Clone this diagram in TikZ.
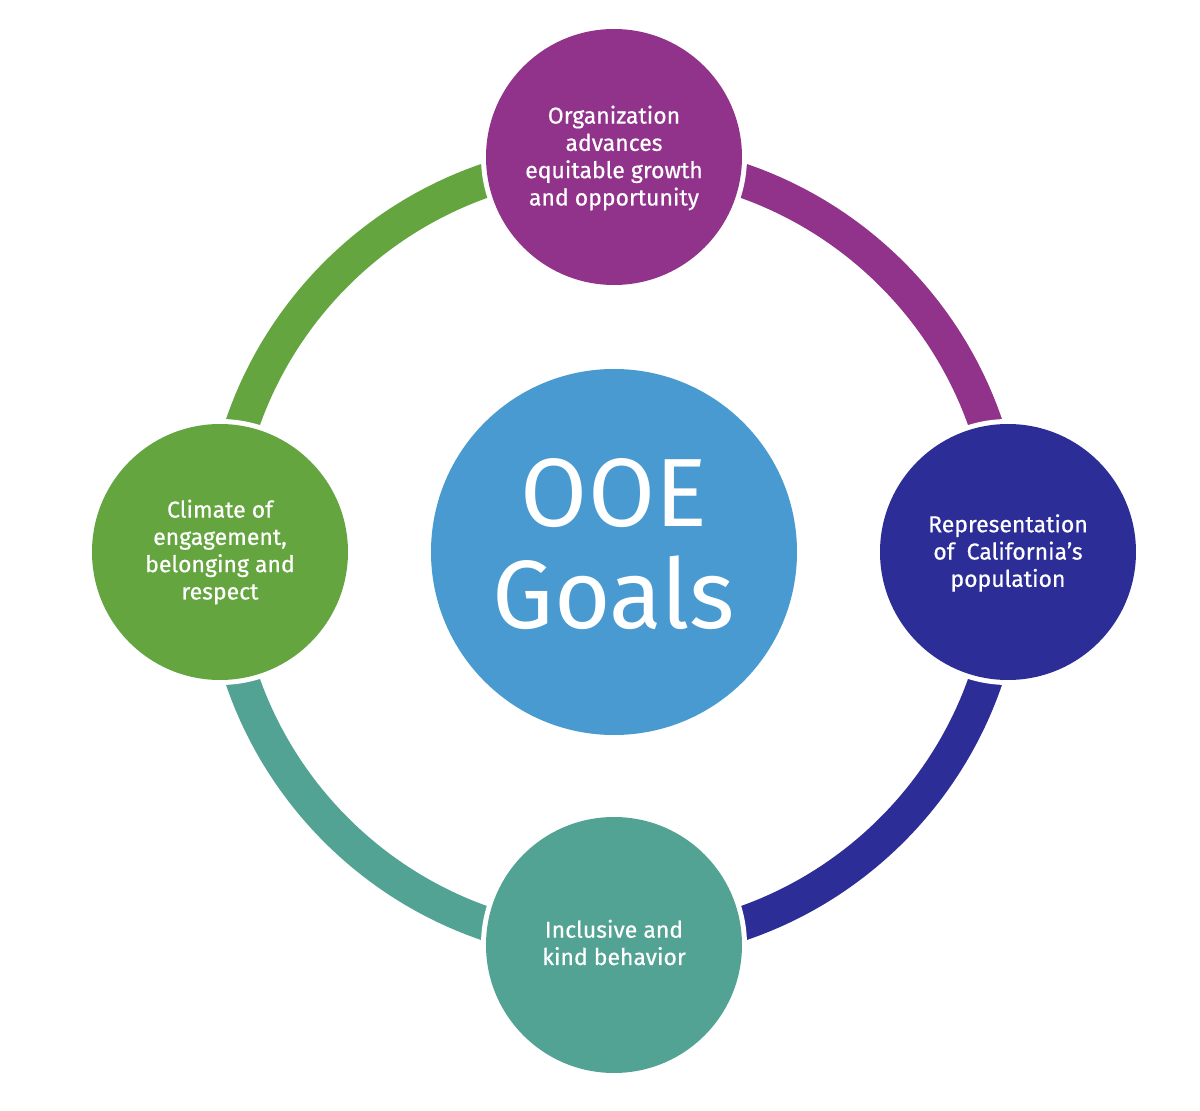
\documentclass[tikz,border=0pt]{standalone}
\usepackage{fontspec}
\setmainfont{Fira Sans}
\newfontfamily\goalfont[FakeBold=0.5]{Fira Sans}
\definecolor{cpurple}{HTML}{92338B}
\definecolor{cnavy}{HTML}{2C2D96}
\definecolor{cteal}{HTML}{53A394}
\definecolor{cgreen}{HTML}{65A540}
\definecolor{cblue}{HTML}{489AD0}
\tikzset{
  ringarc/.style={line width=34pt},
  halo/.style={circle, fill=white, minimum size=266pt, inner sep=0pt},
  goal/.style={circle, minimum size=256pt, inner sep=0pt},
  goaltext/.style={text=white, align=center, inner sep=0pt,
    font=\goalfont\fontsize{23}{27.3}\selectfont},
  hub/.style={circle, fill=cblue, minimum size=366pt, inner sep=0pt},
  hubtext/.style={text=white, align=center, inner sep=0pt,
    font=\fontsize{97}{104}\selectfont}
}
\begin{document}
\begin{tikzpicture}[x=1pt,y=1pt]
\useasboundingbox (-614,-559) rectangle (586,552);
\coordinate (c) at (0,0);
\draw[ringarc, cpurple] (90:393) arc (90:0:393);
\draw[ringarc, cnavy] (0:393) arc (0:-90:393);
\draw[ringarc, cteal] (-90:393) arc (-90:-180:393);
\draw[ringarc, cgreen] (180:393) arc (180:90:393);
\node[halo] (ht) at (0,395) {};
\node[halo] (hr) at (394,0) {};
\node[halo] (hb) at (0,-393) {};
\node[halo] (hl) at (-394,0) {};
\node[hub] (center) at (c) {};
\node[hubtext] (centertext) at ([yshift=8pt]center.center) {OOE\\[-2pt]Goals};
\node[goal, fill=cpurple] (top) at (0,395) {};
\node[goal, fill=cnavy] (right) at (394,0) {};
\node[goal, fill=cteal] (bottom) at (0,-393) {};
\node[goal, fill=cgreen] (left) at (-394,0) {};
\node[goaltext] (toptext) at ([yshift=-1pt]top.center) {Organization\\advances\\equitable growth\\and opportunity};
\node[goaltext] (righttext) at ([yshift=-1pt]right.center) {Representation\\of \ California’s\\population};
\node[goaltext] (bottomtext) at ([yshift=2.5pt]bottom.center) {Inclusive and\\kind behavior};
\node[goaltext] (lefttext) at ([yshift=0pt]left.center) {Climate of\\engagement,\\belonging and\\respect};
\end{tikzpicture}
\end{document}
